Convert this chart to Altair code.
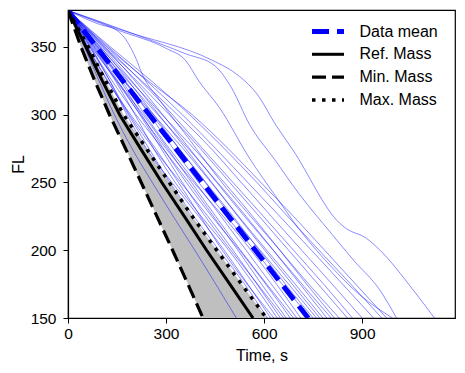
import altair as alt
import pandas as pd

# Flight levels at which every regular climb was sampled (top of climb first)
FL_LEVELS = [377, 350, 325, 300, 275, 250, 225, 200, 175, 150]

# Elapsed time (s) of each recorded climb when it passes FL_LEVELS
run_times = [
    [0, 50, 95, 142, 196, 258, 322, 388, 452, 515],
    [0, 58, 122, 185, 248, 312, 385, 462, 540, 610],
    [0, 66, 128, 180, 240, 318, 400, 478, 550, 620],
    [0, 62, 120, 192, 268, 338, 405, 472, 548, 630],
    [0, 75, 145, 205, 262, 328, 408, 492, 568, 640],
    [0, 70, 128, 188, 262, 345, 428, 505, 578, 650],
    [0, 80, 152, 220, 285, 350, 420, 498, 580, 660],
    [0, 68, 135, 208, 290, 370, 445, 520, 592, 668],
    [0, 85, 160, 225, 292, 362, 440, 525, 605, 680],
    [0, 72, 150, 230, 305, 378, 452, 528, 608, 690],
    [0, 90, 165, 235, 310, 390, 468, 545, 622, 700],
    [0, 78, 148, 222, 300, 385, 475, 560, 638, 712],
    [0, 95, 175, 250, 322, 400, 485, 570, 655, 742],
    [0, 82, 170, 255, 340, 422, 505, 585, 665, 750],
    [0, 100, 185, 262, 340, 420, 500, 588, 675, 760],
    [0, 88, 172, 262, 352, 438, 520, 602, 686, 770],
    [0, 105, 195, 278, 360, 440, 522, 608, 695, 780],
    [0, 92, 182, 275, 368, 458, 545, 628, 710, 792],
    [0, 112, 205, 290, 372, 455, 540, 628, 716, 805],
    [0, 98, 192, 288, 385, 478, 565, 648, 730, 815],
    [0, 108, 210, 310, 405, 495, 585, 675, 765, 855],
    [0, 118, 222, 320, 412, 505, 598, 690, 782, 870],
    [0, 112, 225, 335, 438, 530, 622, 715, 808, 900],
    [0, 125, 240, 350, 452, 550, 648, 745, 840, 935],
    [0, 130, 255, 372, 478, 578, 672, 768, 865, 960],
    [0, 120, 245, 380, 490, 590, 690, 785, 880, 975],
]

# Climbs with an irregular profile, listed point by point
run_d_time = [0, 97, 146, 177, 207, 228, 280, 372, 464, 555, 647, 738, 830]
run_d_fl = [377, 366.6, 362.9, 355.5, 342, 329.5, 311, 281.6, 252, 226, 200.4, 174.6, 150]
run_c_time = [0, 158, 300, 360, 400, 464, 555, 632, 709, 801, 893, 993]
run_c_fl = [377, 362, 349, 340, 325, 305, 268, 241, 215, 189, 167, 150]
run_a_time = [0, 158, 360, 450, 500, 555, 632, 709, 800, 876, 953, 1005]
run_a_fl = [377, 363.5, 345, 336, 320, 293, 267, 241, 214, 192, 171, 150]
run_b_time = [0, 158, 443, 504, 545, 576, 637, 688, 831, 851, 912, 953, 1055, 1121]
run_b_fl = [377, 363, 340, 332, 324, 316, 292, 274, 220, 216, 209, 200.4, 171, 150]

# Mean of the recorded climbs and the model climbs for three masses
mean_time = [0, 87, 168, 249, 330, 411, 492, 573, 654, 735]
ref_time = [0, 55, 105, 158, 222, 287, 356, 424, 495, 566]
min_time = [0, 40, 82, 127, 176, 224, 272, 320, 367, 413]
max_time = [0, 62, 115, 170, 240, 310, 380, 455, 531, 607]

LEGEND_LABELS = ["Data mean", "Ref. Mass", "Min. Mass", "Max. Mass"]

FONT = "Liberation Sans"
X_DOMAIN = [0, 1184]
Y_DOMAIN = [150, 377.3]

rows = []
for i, ts in enumerate(run_times):
    for t, fl in zip(ts, FL_LEVELS):
        rows.append({"run": f"run{i}", "time": t, "fl": fl})
for name, ts, fls in [("d", run_d_time, run_d_fl), ("c", run_c_time, run_c_fl),
                      ("a", run_a_time, run_a_fl), ("b", run_b_time, run_b_fl)]:
    for t, fl in zip(ts, fls):
        rows.append({"run": f"run_{name}", "time": t, "fl": fl})
runs_df = pd.DataFrame(rows)

band_df = pd.DataFrame({"fl": FL_LEVELS, "t_min": min_time, "t_max": max_time})


def series_df(times):
    return pd.DataFrame({"time": times, "fl": FL_LEVELS})


x_axis = alt.Axis(values=[0, 300, 600, 900], title="Time, s", titleY=42,
                  titleBaseline="alphabetic", labelPadding=3, labelFlush=False)
y_axis = alt.Axis(values=[150, 200, 250, 300, 350], title="FL", titleX=-45,
                  titleBaseline="alphabetic", labelPadding=7)
xs = alt.Scale(domain=X_DOMAIN, nice=False, zero=False)
ys = alt.Scale(domain=Y_DOMAIN, nice=False, zero=False)

band = alt.Chart(band_df).mark_area(orient="horizontal", color="#bfbfbf", clip=True).encode(
    y=alt.Y("fl:Q", scale=ys, axis=y_axis),
    x=alt.X("t_min:Q", scale=xs, axis=x_axis),
    x2="t_max:Q",
)

runs = alt.Chart(runs_df).mark_line(color="#0000ff", strokeWidth=0.9, opacity=0.5,
                                    interpolate="monotone", clip=True).encode(
    x=alt.X("time:Q", scale=xs, axis=x_axis),
    y=alt.Y("fl:Q", scale=ys, axis=y_axis),
    detail="run:N",
)


def styled(times, **mark):
    return alt.Chart(series_df(times)).mark_line(clip=True, strokeCap="butt", **mark).encode(
        x=alt.X("time:Q", scale=xs, axis=x_axis),
        y=alt.Y("fl:Q", scale=ys, axis=y_axis),
    )


styles = [
    dict(color="#0000ff", strokeWidth=5, strokeDash=[17, 8]),
    dict(color="black", strokeWidth=3),
    dict(color="black", strokeWidth=3.2, strokeDash=[14, 6]),
    dict(color="black", strokeWidth=3.5, strokeDash=[3.5, 6.5]),
]

mean_line = styled(mean_time, **styles[0])
ref_line = styled(ref_time, **styles[1])
min_line = styled(min_time, **styles[2])
max_line = styled(max_time, **styles[3])

# Legend drawn in the upper right corner of the plot area
legend_layers = []
for i, (label, st) in enumerate(zip(LEGEND_LABELS, styles)):
    yy = 21.5 + i * 22.8
    src = alt.Data(values=[{"label": label}])
    legend_layers.append(
        alt.Chart(src).mark_rule(strokeCap="butt", **st).encode(
            x=alt.value(244), x2=alt.value(276), y=alt.value(yy))
    )
    legend_layers.append(
        alt.Chart(src).mark_text(align="left", baseline="middle", font=FONT,
                                 fontSize=16, color="black").encode(
            x=alt.value(291.5), y=alt.value(yy), text="label:N")
    )

chart = alt.layer(band, runs, mean_line, ref_line, min_line, max_line, *legend_layers).properties(
    width=387, height=308,
    autosize=alt.AutoSizeParams(type="none"),
    padding={"left": 68, "top": 10, "right": 10, "bottom": 55},
    background="white",
).configure_view(
    stroke="black", strokeWidth=1.2,
).configure_axis(
    grid=False, domainColor="black", domainWidth=1.2, tickColor="black", tickWidth=1,
    tickSize=5, labelColor="black", labelFont=FONT, labelFontSize=15.5,
    titleColor="black", titleFont=FONT, titleFontSize=16, titleFontWeight="normal",
)

chart.save("out.html", embed_options={"renderer": "svg", "actions": False})
